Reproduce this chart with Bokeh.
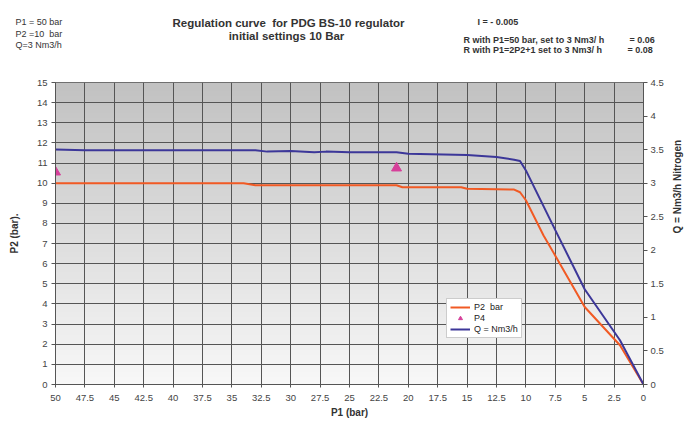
import math
import numpy as np
from bokeh.plotting import figure
from bokeh.models import Range1d, LinearAxis, FixedTicker, Label, Legend, LegendItem
from bokeh.embed import file_html
from bokeh.resources import INLINE

# ---- data ----
p1_p2 = [50, 45, 40, 35, 34, 33, 30, 25, 21, 20.5, 20, 15.5, 15, 11, 10.5, 10, 8.5, 7.5, 5, 2, 0]
p2_bar = [10.0, 10.0, 10.0, 10.0, 10.0, 9.9, 9.9, 9.9, 9.9, 9.8, 9.8, 9.8, 9.72, 9.68, 9.55, 9.15, 7.4, 6.4, 3.85, 1.95, 0.0]

p1_q = [50, 47.5, 40, 33, 32, 30, 28, 27, 25, 21, 20, 15, 12.5, 11, 10.5, 10, 7.5, 5, 2, 0]
q_nm3h = [3.50, 3.49, 3.49, 3.49, 3.47, 3.48, 3.46, 3.47, 3.46, 3.46, 3.44, 3.42, 3.39, 3.35, 3.33, 3.19, 2.30, 1.42, 0.66, 0.0]

p1_p4 = [50, 21]
p4_bar = [10.55, 10.75]

x_ticks = [0, 2.5, 5, 7.5, 10, 12.5, 15, 17.5, 20, 22.5, 25, 27.5, 30, 32.5, 35, 37.5, 40, 42.5, 45, 47.5, 50]
y_ticks = list(range(0, 16))
q_ticks = [0, 0.5, 1, 1.5, 2, 2.5, 3, 3.5, 4, 4.5]

FONT = "Liberation Sans"
W = 694
HEAD_H = 74
MAIN_H = 348

# ---- header with the texts above the chart ----
head = figure(width=W, height=HEAD_H, output_backend="svg", toolbar_location=None,
              x_range=Range1d(0, W), y_range=Range1d(HEAD_H, 0),
              min_border=0, x_axis_type=None, y_axis_type=None)
head.grid.visible = False
head.outline_line_color = None
head.background_fill_color = "#ffffff"
head.border_fill_color = "#ffffff"

def add_text(px, py, text, size, bold=False, align="left"):
    lab = Label(x=px, y=py, text=text, text_font=FONT, text_font_size=size,
                text_font_style="bold" if bold else "normal", text_color="#333333",
                text_align=align, text_baseline="middle")
    head.add_layout(lab)

add_text(15, 21, "P1 = 50 bar", "9px")
add_text(15, 33, "P2 =10 \u00a0bar", "9px")
add_text(15, 44, "Q=3 Nm3/h", "9px")
add_text(288, 22, "Regulation curve \u00a0for PDG BS-10 regulator", "11.5px", True, "center")
add_text(286, 35, "initial settings 10 Bar", "11.5px", True, "center")
add_text(477, 21, "I = - 0.005", "9px", True)
add_text(463, 39, "R with P1=50 bar, set to 3 Nm3/ h", "9px", True)
add_text(629, 39, "= 0.06", "9px", True)
add_text(463, 49, "R with P1=2P2+1 set to 3 Nm3/ h", "9px", True)
add_text(627, 49, "= 0.08", "9px", True)

# ---- main chart ----
p = figure(width=W, height=MAIN_H, output_backend="svg", toolbar_location=None,
           x_range=Range1d(50, 0), y_range=Range1d(0, 15),
           min_border_left=55, min_border_right=51, min_border_top=8, min_border_bottom=38)
p.extra_y_ranges = {"q": Range1d(0, 4.5)}

# background gradient
n = 120
t = np.linspace(0, 1, n)  # bottom -> top
top_c = np.array([194, 194, 194]); bot_c = np.array([248, 248, 248])
img = np.zeros((n, 2), dtype=np.uint32)
view = img.view(dtype=np.uint8).reshape((n, 2, 4))
for i in range(n):
    c = bot_c + (top_c - bot_c) * t[i]
    view[i, :, 0] = int(c[0]); view[i, :, 1] = int(c[1]); view[i, :, 2] = int(c[2]); view[i, :, 3] = 255
bg = p.image_rgba(image=[img], x=0, y=0, dw=50, dh=15)
bg.level = "image"

p.background_fill_color = "#ffffff"
p.border_fill_color = "#ffffff"
p.outline_line_color = "#555555"

p.xgrid.ticker = FixedTicker(ticks=x_ticks)
p.ygrid.ticker = FixedTicker(ticks=y_ticks)
for g in (p.xgrid, p.ygrid):
    g.grid_line_color = "#555555"
    g.grid_line_width = 1

xa = p.xaxis[0]
xa.ticker = FixedTicker(ticks=x_ticks)
xa.major_label_overrides = {t_: ("%g" % t_) for t_ in x_ticks}
xa.axis_label = "P1 (bar)"
ya = p.yaxis[0]
ya.ticker = FixedTicker(ticks=y_ticks)
ya.axis_label = "P2 (bar)."
qa = LinearAxis(y_range_name="q", ticker=FixedTicker(ticks=q_ticks), axis_label="Q = Nm3/h Nitrogen")
qa.major_label_overrides = {t_: ("%g" % t_) for t_ in q_ticks}
p.add_layout(qa, "right")
if "axis_label_orientation" in qa.properties():
    try:
        qa.axis_label_orientation = math.pi / 2
    except Exception:
        pass

for ax in (xa, ya, qa):
    ax.axis_line_color = "#555555"
    ax.major_tick_line_color = "#555555"
    ax.minor_tick_line_color = None
    ax.major_tick_in = 0
    ax.major_tick_out = 4
    ax.major_label_text_font = FONT
    ax.major_label_text_font_size = "9.5px"
    ax.major_label_text_color = "#444444"
    ax.axis_label_text_font = FONT
    ax.axis_label_text_font_size = "10px"
    ax.axis_label_text_font_style = "bold"
    ax.axis_label_text_color = "#333333"
xa.major_tick_in = 3
xa.major_tick_out = 3
xa.major_label_standoff = 7
xa.axis_label_standoff = 3
ya.major_label_standoff = 4
ya.axis_label_standoff = 14
qa.major_label_standoff = 3
qa.axis_label_standoff = 11

r_p2 = p.line(p1_p2, p2_bar, line_color="#f15a24", line_width=2)
r_p4 = p.scatter(p1_p4, p4_bar, marker="triangle", size=10, fill_color="#d6409a", line_color="#d6409a")
r_q = p.line(p1_q, q_nm3h, line_color="#3c3799", line_width=2, y_range_name="q")

legend = Legend(items=[LegendItem(label="P2 \u00a0bar", renderers=[r_p2]),
                       LegendItem(label="P4", renderers=[r_p4]),
                       LegendItem(label="Q = Nm3/h", renderers=[r_q])],
                location=(391, 46))
legend.label_text_font = FONT
legend.label_text_font_size = "9px"
legend.label_text_color = "#222222"
legend.glyph_width = 20
legend.glyph_height = 10
legend.label_height = 10
legend.label_standoff = 4
legend.spacing = 1
legend.padding = 3
legend.margin = 0
legend.border_line_color = "#999999"
legend.background_fill_color = "#ffffff"
legend.background_fill_alpha = 1.0
p.add_layout(legend, "center")

open("out.html", "w").write(file_html([head, p], INLINE))
